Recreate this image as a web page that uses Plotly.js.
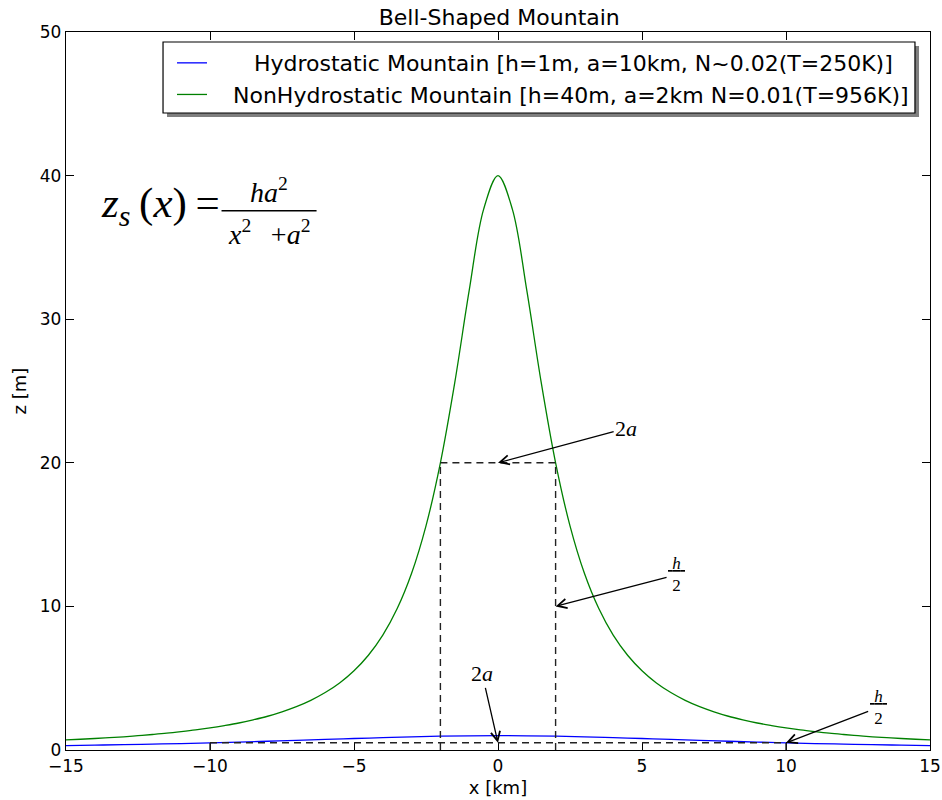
<!DOCTYPE html>
<html>
<head>
<meta charset="utf-8">
<script src="https://cdn.plot.ly/plotly-3.0.1.min.js"></script>
<style>
  html, body { margin: 0; padding: 0; background: #fff; }
  #chart { width: 942px; height: 800px; }
</style>
</head>
<body>
<div id="chart"></div>
<script>
// Surface height z_s(x) sampled along x [km] for both mountains
const xNonHydro = [-15,-14.5,-14,-13.5,-13,-12.5,-12,-11.5,-11,-10.5,-10,-9.5,-9,-8.5,-8,-7.5,-7,-6.5,-6,-5.5,-5,-4.5,-4,-3.5,-3,-2.5,-2,-1.5,-1,-0.5,0,
                   0.5,1,1.5,2,2.5,3,3.5,4,4.5,5,5.5,6,6.5,7,7.5,8,8.5,9,9.5,10,10.5,11,11.5,12,12.5,13,13.5,14,14.5,15];
const zNonHydro = [0.70,0.75,0.80,0.86,0.92,1.00,1.08,1.17,1.28,1.40,1.54,1.70,1.88,2.10,2.35,2.66,3.02,3.46,4.00,4.67,5.52,6.60,8.00,9.85,12.31,15.61,20.00,25.60,32.00,37.65,40.00,
                   37.65,32.00,25.60,20.00,15.61,12.31,9.85,8.00,6.60,5.52,4.67,4.00,3.46,3.02,2.66,2.35,2.10,1.88,1.70,1.54,1.40,1.28,1.17,1.08,1.00,0.92,0.86,0.80,0.75,0.70];

const xHydro = [-15,-14,-13,-12,-11,-10,-9,-8,-7,-6,-5,-4,-3,-2,-1,0,1,2,3,4,5,6,7,8,9,10,11,12,13,14,15];
const zHydro = [0.31,0.34,0.37,0.41,0.45,0.50,0.55,0.61,0.67,0.74,0.80,0.86,0.92,0.96,0.99,1.00,0.99,0.96,0.92,0.86,0.80,0.74,0.67,0.61,0.55,0.50,0.45,0.41,0.37,0.34,0.31];

// Mountain parameters (height h [m], half-width a [km])
const hHydro = 1, aHydro = 10;
const hNonHydro = 40, aNonHydro = 2;

const seriesNames = [
  '\u00a0\u00a0\u00a0\u00a0\u00a0\u00a0Hydrostatic Mountain [h=1m, a=10km, N~0.02(T=250K)]',
  '\u00a0\u00a0\u00a0NonHydrostatic Mountain [h=40m, a=2km N=0.01(T=956K)]'
];

const xTicks = [-15, -10, -5, 0, 5, 10, 15];
const yTicks = [0, 10, 20, 30, 40, 50];

const traces = [
  {
    x: xHydro, y: zHydro, type: 'scatter', mode: 'lines', name: seriesNames[0],
    line: { color: '#0000ff', width: 1.3, shape: 'spline' }
  },
  {
    x: xNonHydro, y: zNonHydro, type: 'scatter', mode: 'lines', name: seriesNames[1],
    line: { color: '#008000', width: 1.3, shape: 'spline' }
  }
];

// Dashed guides marking half height (h/2) and width (2a)
const dashLine = { color: '#222', width: 1.4, dash: '7px,5px' };
function guide(x0, y0, x1, y1) {
  return { type: 'line', xref: 'x', yref: 'y', x0: x0, y0: y0, x1: x1, y1: y1, line: dashLine, layer: 'above' };
}
const shapes = [
  // legend frame with its drop shadow
  { type: 'rect', xref: 'paper', yref: 'paper', x0: 0.1169, x1: 0.9873, y0: 0.8816, y1: 0.9805,
    fillcolor: '#7f7f7f', line: { width: 0 }, layer: 'above' },
  { type: 'rect', xref: 'paper', yref: 'paper', x0: 0.1123, x1: 0.9826, y0: 0.8872, y1: 0.9861,
    fillcolor: '#ffffff', line: { color: '#000', width: 1.2 }, layer: 'above' },
  guide(-aNonHydro, hNonHydro / 2, aNonHydro, hNonHydro / 2),
  guide(-aNonHydro, 0, -aNonHydro, hNonHydro / 2),
  guide(aNonHydro, 0, aNonHydro, hNonHydro / 2),
  guide(-aHydro, hHydro / 2, aHydro, hHydro / 2),
  guide(-aHydro, 0, -aHydro, hHydro / 2),
  guide(aHydro, 0, aHydro, hHydro / 2),
  // fraction bar of the formula
  { type: 'line', xref: 'x', yref: 'y', x0: -9.6, x1: -6.3, y0: 37.55, y1: 37.55, line: { color: '#000', width: 1.6 } }
];

const mathFont = { family: 'Liberation Serif, DejaVu Serif, serif', color: '#000' };
function arrowNote(text, x, y, ax, ay, size) {
  return {
    text: text, x: x, y: y, ax: ax, ay: ay, xref: 'x', yref: 'y', axref: 'x', ayref: 'y',
    showarrow: true, arrowhead: 5, arrowsize: 1.4, arrowwidth: 1.3, arrowcolor: '#000',
    font: Object.assign({ size: size }, mathFont)
  };
}

const annotations = [
  arrowNote('2<i>a</i>', 0, hNonHydro / 2, 4.45, 22.4, 22),
  arrowNote('<u>\u00a0<i>h</i>\u00a0</u><br>2', aNonHydro, hNonHydro / 4, 6.2, 12.2, 17),
  arrowNote('2<i>a</i>', 0, hHydro / 2, -0.55, 5.3, 22),
  arrowNote('<u>\u00a0<i>h</i>\u00a0</u><br>2', aHydro, hHydro / 2, 13.2, 2.95, 17),
  // z_s(x) = h a^2 / (x^2 + a^2)
  { text: '<i>z</i><sub><i>s</i></sub>\u2009(<i>x</i>)\u2009=', x: -9.6, y: 37.9, xref: 'x', yref: 'y',
    xanchor: 'right', yanchor: 'middle', showarrow: false, font: Object.assign({ size: 43 }, mathFont) },
  { text: '<i>ha</i><sup>2</sup>', x: -7.95, y: 37.6, xref: 'x', yref: 'y',
    xanchor: 'center', yanchor: 'bottom', showarrow: false, font: Object.assign({ size: 28 }, mathFont) },
  { text: '<i>x</i><sup>2</sup>\u2002\u2009+<i>a</i><sup>2</sup>', x: -7.95, y: 37.4, xref: 'x', yref: 'y',
    xanchor: 'center', yanchor: 'top', showarrow: false, font: Object.assign({ size: 28 }, mathFont) }
];

const axisCommon = {
  showgrid: false, zeroline: false, showline: true, linecolor: '#000', linewidth: 1.2,
  mirror: 'ticks', ticks: 'inside', ticklen: 8, tickwidth: 1, tickcolor: '#000',
  tickfont: { family: 'DejaVu Sans', size: 17, color: '#000' }
};

const layout = {
  width: 942, height: 800,
  margin: { l: 66, r: 12, t: 32, b: 50 },
  paper_bgcolor: '#fff', plot_bgcolor: '#fff',
  font: { family: 'DejaVu Sans', color: '#000' },
  title: { text: 'Bell-Shaped Mountain', x: 0.53, xanchor: 'center', y: 0.988, yanchor: 'top',
           font: { family: 'DejaVu Sans', size: 22, color: '#000' } },
  xaxis: Object.assign({}, axisCommon, {
    range: [-15, 15], tickvals: xTicks, ticktext: xTicks.map(v => v < 0 ? '\u2212' + Math.abs(v) : String(v)),
    title: { text: 'x [km]', font: { family: 'DejaVu Sans', size: 18 }, standoff: 6 }
  }),
  yaxis: Object.assign({}, axisCommon, {
    range: [0, 50], tickvals: yTicks,
    title: { text: 'z [m]', font: { family: 'DejaVu Sans', size: 18 }, standoff: 8 }
  }),
  showlegend: true,
  legend: {
    x: 0.1227, xanchor: 'left', y: 0.986, yanchor: 'top',
    bgcolor: 'rgba(0,0,0,0)', borderwidth: 0,
    font: { family: 'DejaVu Sans', size: 22, color: '#000' },
    itemwidth: 30
  },
  shapes: shapes,
  annotations: annotations
};

Plotly.newPlot('chart', traces, layout, { staticPlot: true, displayModeBar: false });
</script>
</body>
</html>
